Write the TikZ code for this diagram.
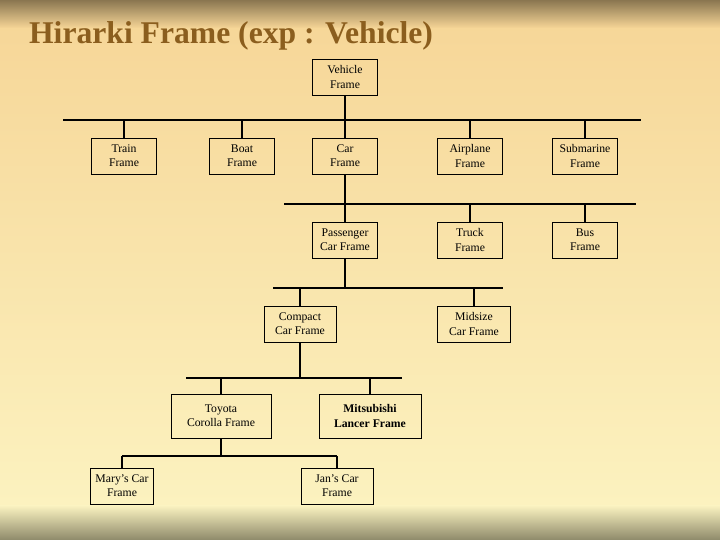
\documentclass[tikz,border=0pt]{standalone}
\usepackage{fontspec}
\setmainfont{Liberation Serif}
\usepackage{tikz}
\definecolor{titlebrown}{HTML}{8B5E1E}
\definecolor{bgtop}{HTML}{F6D596}
\definecolor{bgbot}{HTML}{FCF4C2}
\definecolor{bandtop}{HTML}{8A7650}
\definecolor{bandbot}{HTML}{8E8A6A}
\tikzset{
  frame/.style={draw, line width=0.8pt, align=center, inner sep=1pt,
    minimum width=1.95cm, minimum height=1.08cm, font=\fontsize{10}{12}\selectfont},
  bar/.style={line width=2.4pt},
  stem/.style={line width=1.7pt},
  thinstem/.style={line width=0.9pt}
}

\begin{document}
\begin{tikzpicture}[x=0.03cm, y=-0.03cm]
    \useasboundingbox (0,0) rectangle (720,540);
    % background
    \shade[top color=bgtop, bottom color=bgbot] (0,0) rectangle (720,540);
    \shade[top color=bandtop, bottom color=bgtop] (0,0) rectangle (720,28);
    \shade[top color=bgbot, bottom color=bandbot] (0,505) rectangle (720,540);

    \node[anchor=base west, text=titlebrown, font=\fontsize{27}{30}\selectfont\bfseries] (title) at (25,44) {Hirarki Frame (exp : Vehicle)};

    \node[frame] (vehicle) at (345,77) {Vehicle\\Frame};

    \node[frame] (train) at (124,156) {Train\\Frame};
    \node[frame] (boat) at (242,156) {Boat\\Frame};
    \node[frame] (car) at (345,156) {Car\\Frame};
    \node[frame] (airplane) at (470,156) {Airplane\\Frame};
    \node[frame] (submarine) at (585,156) {Submarine\\Frame};

    \node[frame] (passenger) at (345,240) {Passenger\\Car Frame};
    \node[frame] (truck) at (470,240) {Truck\\Frame};
    \node[frame] (bus) at (585,240) {Bus\\Frame};

    \node[frame, minimum width=2.16cm] (compact) at (300,324) {Compact\\Car Frame};
    \node[frame, minimum width=2.19cm] (midsize) at (474,324) {Midsize\\Car Frame};

    \node[frame, minimum width=3cm, minimum height=1.32cm] (toyota) at (221,416) {Toyota\\Corolla Frame};
    \node[frame, minimum width=3.06cm, minimum height=1.32cm, font=\fontsize{10}{12}\selectfont\bfseries] (mitsubishi) at (370,416) {Mitsubishi\\Lancer Frame};

    \node[frame, minimum width=1.89cm] (mary) at (122,486) {Mary’s Car\\Frame};
    \node[frame, minimum width=2.16cm] (jan) at (337,486) {Jan’s Car\\Frame};

    % bars
    \coordinate (b1a) at (63,120);  \coordinate (b1b) at (641,120);
    \coordinate (b2a) at (284,204); \coordinate (b2b) at (636,204);
    \coordinate (b3a) at (273,288); \coordinate (b3b) at (503,288);
    \coordinate (b4a) at (186,378); \coordinate (b4b) at (402,378);
    \coordinate (b5a) at (mary.north |- 0,456); \coordinate (b5b) at (jan.north |- 0,456);
    \foreach \a/\b in {b1a/b1b, b2a/b2b, b3a/b3b, b4a/b4b, b5a/b5b}
        \draw[bar] (\a) -- (\b);

    % stems
    \draw[stem] (vehicle.south) -- (vehicle.south |- b1a);
    \foreach \n in {train,boat,car,airplane,submarine}
        \draw[stem] (\n.north) -- (\n.north |- b1a);
    \draw[stem] (car.south) -- (car.south |- b2a);
    \foreach \n in {passenger,truck,bus}
        \draw[stem] (\n.north) -- (\n.north |- b2a);
    \draw[stem] (passenger.south) -- (passenger.south |- b3a);
    \foreach \n in {compact,midsize}
        \draw[stem] (\n.north) -- (\n.north |- b3a);
    \draw[stem] (compact.south) -- (compact.south |- b4a);
    \foreach \n in {toyota,mitsubishi}
        \draw[stem] (\n.north) -- (\n.north |- b4a);
    \draw[thinstem] (toyota.south) -- (toyota.south |- b5a);
    \draw[thinstem] (mary.north) -- (b5a);
    \draw[stem] (jan.north) -- (b5b);
\end{tikzpicture}
\end{document}
